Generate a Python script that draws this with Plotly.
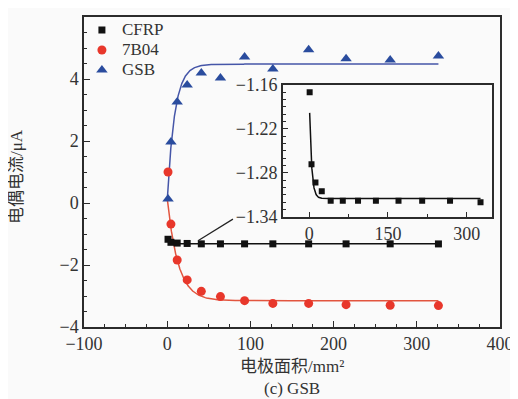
import numpy as np
import plotly.graph_objects as go

# ---- data ----
area_mm2 = [1, 4.5, 12, 24, 41, 64, 93, 127, 170, 215, 268, 326]
cfrp_uA = [-1.170, -1.268, -1.293, -1.305, -1.318, -1.318, -1.318, -1.318, -1.318, -1.318, -1.318, -1.320]
b7b04_uA = [1.0, -0.68, -1.84, -2.48, -2.85, -3.02, -3.15, -3.24, -3.24, -3.28, -3.30, -3.31]
gsb_uA = [0.13, 1.97, 3.26, 3.81, 4.19, 4.03, 4.71, 4.32, 4.94, 4.65, 4.61, 4.74]

# exponential fit parameters (y = y_inf + amp * exp(-x / tau)) as drawn in the figure
fit_cfrp = dict(y_inf=-1.315, amp=0.15, tau=4.0)
fit_7b04 = dict(y_inf=-3.15, amp=3.30, tau=13.0)
fit_gsb = dict(y_inf=4.48, amp=-4.40, tau=9.0)

main_xticks = [-100, 0, 100, 200, 300, 400]
main_yticks = [-4, -2, 0, 2, 4, 6]
inset_xticks = [0, 150, 300]
inset_yticks = [-1.34, -1.28, -1.22, -1.16]

names = ["CFRP", "7B04", "GSB"]

# ---- styles ----
FONT = "Liberation Serif, Times New Roman, Noto Sans CJK SC"
BG = "#fafafa"
AX = "#2b2b2b"
C_BLACK = "#111111"
C_RED = "#e8372b"
C_BLUE = "#2a4c9e"
C_RED_LINE = "#e2553f"
C_BLUE_LINE = "#4656a8"


def fit_curve(p, x0, x1):
    xs = np.concatenate([np.linspace(x0, 40, 300), np.linspace(40, x1, 200)[1:]])
    return xs, p["y_inf"] + p["amp"] * np.exp(-xs / p["tau"])


x_end = area_mm2[-1]
fig = go.Figure()

# fitted curves (main)
for p, col in [(fit_cfrp, C_BLACK), (fit_7b04, C_RED_LINE), (fit_gsb, C_BLUE_LINE)]:
    xs, ys = fit_curve(p, 0, x_end)
    fig.add_trace(go.Scatter(x=xs, y=ys, mode="lines", line=dict(color=col, width=1.5),
                             showlegend=False, hoverinfo="skip", xaxis="x", yaxis="y"))

leg = lambda s: f'<span style="font-size:17px">{s}</span>'
fig.add_trace(go.Scatter(x=area_mm2, y=cfrp_uA, mode="markers", name=leg(names[0]),
                         marker=dict(symbol="square", size=7, color=C_BLACK), xaxis="x", yaxis="y"))
fig.add_trace(go.Scatter(x=area_mm2, y=b7b04_uA, mode="markers", name=leg(names[1]),
                         marker=dict(symbol="circle", size=9, color=C_RED), xaxis="x", yaxis="y"))
fig.add_trace(go.Scatter(x=area_mm2, y=gsb_uA, mode="markers", name=leg(names[2]),
                         marker=dict(symbol="triangle-up", size=10, color=C_BLUE), xaxis="x", yaxis="y"))

# inset
xs, ys = fit_curve(fit_cfrp, area_mm2[0], x_end)
fig.add_trace(go.Scatter(x=xs, y=ys, mode="lines", line=dict(color=C_BLACK, width=1.5),
                         showlegend=False, hoverinfo="skip", xaxis="x2", yaxis="y2"))
fig.add_trace(go.Scatter(x=area_mm2, y=cfrp_uA, mode="markers", showlegend=False,
                         marker=dict(symbol="square", size=6, color=C_BLACK), xaxis="x2", yaxis="y2"))

tickfont = dict(family=FONT, size=18, color="#333")
common = dict(showline=True, linecolor=AX, linewidth=1.5, mirror=True, ticks="inside",
              tickcolor=AX, tickwidth=1.2, showgrid=False, zeroline=False, tickfont=tickfont,
              automargin=False)

# page body has an 8px margin, so the figure is 8px smaller and margins compensate
fig.update_layout(
    width=510, height=391, autosize=False,
    margin=dict(l=76, r=18, t=9, b=72, autoexpand=False),
    paper_bgcolor=BG, plot_bgcolor=BG,
    font=dict(family=FONT, color="#333"),
    xaxis=dict(range=[-100, 400], tickvals=main_xticks, ticklen=6, domain=[0, 1],
               minor=dict(dtick=25, tick0=0, ticks="inside", ticklen=3, tickcolor=AX), **common),
    yaxis=dict(range=[-4, 6], tickvals=main_yticks, ticklen=6, domain=[0, 1],
               minor=dict(dtick=0.5, tick0=0, ticks="inside", ticklen=3, tickcolor=AX), **common),
    xaxis2=dict(range=[-50, 348], tickvals=inset_xticks, ticklen=5, anchor="y2",
                domain=[0.478, 0.981],
                minor=dict(dtick=75, tick0=0, ticks="inside", ticklen=3, tickcolor=AX), **common),
    yaxis2=dict(range=[-1.34, -1.16], tickvals=inset_yticks, ticklen=5, anchor="x2",
                domain=[0.355, 0.781], tickformat=".2f",
                minor=dict(dtick=0.01, tick0=-1.34, ticks="inside", ticklen=3, tickcolor=AX), **common),
    legend=dict(x=-0.005, y=1.006, xanchor="left", yanchor="top", bgcolor="rgba(0,0,0,0)",
                font=dict(family=FONT, size=13, color="#333"), itemwidth=30),
    showlegend=True,
)

# leader line from CFRP curve to inset
fig.add_shape(type="line", xref="x", yref="y", x0=37, y0=-1.22, x1=79, y1=-0.52,
              line=dict(color="#222", width=1.2))

# titles
fig.add_annotation(text="电极面积/mm²", xref="paper", yref="paper", x=0.5, y=-0.127,
                   xanchor="center", yanchor="middle", showarrow=False,
                   font=dict(family=FONT, size=17, color="#333"))
fig.add_annotation(text="(c) GSB", xref="paper", yref="paper", x=0.5, y=-0.197,
                   xanchor="center", yanchor="middle", showarrow=False,
                   font=dict(family=FONT, size=17, color="#333"))
fig.add_annotation(text="电偶电流/μA", xref="paper", yref="paper", x=-0.161, y=0.484,
                   xanchor="center", yanchor="middle", showarrow=False, textangle=-90,
                   font=dict(family=FONT, size=17, color="#333"))

fig.write_html("out.html")
